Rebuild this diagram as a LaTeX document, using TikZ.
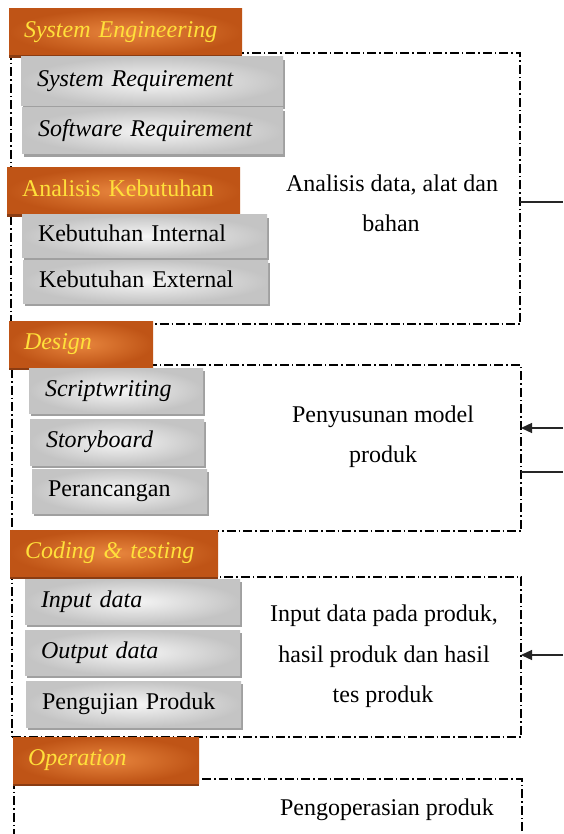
\documentclass[tikz,border=0pt]{standalone}
\usepackage{fontspec}
\setmainfont{Liberation Serif}
\usetikzlibrary{arrows.meta,shadows}
\definecolor{orIn}{HTML}{E8863E}
\definecolor{orOut}{HTML}{BF5416}
\definecolor{orShadow}{HTML}{8A3C12}
\definecolor{hdrText}{HTML}{FFE03A}
\definecolor{grIn}{HTML}{F6F6F6}
\definecolor{grOut}{HTML}{C4C4C4}
\definecolor{grShadow}{HTML}{A0A0A0}
\newcommand{\bigfont}{\fontsize{24}{28}\selectfont}
\begin{document}
\begin{tikzpicture}[x=1pt,y=-1pt,
  frame/.style={draw=black, line width=1.2pt, dash pattern=on 9pt off 3pt on 1.5pt off 3pt,
    anchor=north west, outer sep=0pt, inner sep=0pt},
  hdr/.style={inner xsep=15pt, inner ysep=0pt, outer sep=0pt, text=hdrText, font=\bigfont,
    text height=16pt, text depth=5pt, minimum height=46pt, anchor=north west, align=left,
    inner color=orIn, outer color=orOut,
    drop shadow={shadow xshift=0pt, shadow yshift=-3pt, opacity=1, fill=orShadow}},
  item/.style={inner xsep=16pt, inner ysep=0pt, outer sep=0pt, text=black, font=\bigfont,
    text height=16pt, text depth=5pt, anchor=north west, align=left,
    inner color=grIn, outer color=grOut,
    drop shadow={shadow xshift=2pt, shadow yshift=-3pt, opacity=1, fill=grShadow}},
  rtext/.style={anchor=base, inner sep=0pt, font=\bigfont, text=black},
  conn/.style={draw=black!85, line width=1.3pt},
  arr/.style={conn, -{Triangle[length=11pt,width=10pt]}}
]
\useasboundingbox (0,0) rectangle (563,834);
\clip (0,0) rectangle (563,834);
\fill[white] (0,0) rectangle (563,834);

% dashed frames
\node[frame, minimum width=509pt, minimum height=271pt] (b1) at (11,53) {};
\node[frame, minimum width=509pt, minimum height=166pt] (b2) at (12,365) {};
\node[frame, minimum width=509pt, minimum height=160pt] (b3) at (12,577) {};
\node[frame, minimum width=508pt, minimum height=55.6pt] (b4) at (14,779) {};

% section 1
\node[hdr, text width=203pt] (h1) at (9,9) {\textit{System Engineering}};
\node[item, text width=230pt, minimum height=49pt] (i1) at (21,57) {\textit{System Requirement}};
\node[item, text width=229pt, minimum height=46pt] (i2) at (22,108) {\textit{Software Requirement}};
\node[hdr, text width=203pt] (h1b) at (7,168) {Analisis Kebutuhan};
\node[item, text width=213pt, minimum height=42pt] (i3) at (22,215) {Kebutuhan Internal};
\node[item, text width=213pt, minimum height=43pt] (i4) at (23,260) {Kebutuhan External};
\node[rtext] (t1a) at (392,192) {Analisis data, alat dan};
\node[rtext] (t1b) at (391,232) {bahan};

% section 2
\node[hdr, text width=114pt] (h2) at (9,321) {\textit{Design}};
\node[item, text width=142pt, minimum height=45pt] (i5) at (29,368) {\textit{Scriptwriting}};
\node[item, text width=142pt, minimum height=46pt] (i6) at (30,419) {\textit{Storyboard}};
\node[item, text width=143pt, minimum height=44pt] (i7) at (32,469) {Perancangan};
\node[rtext] (t2a) at (383,422) {Penyusunan model};
\node[rtext] (t2b) at (383,462) {produk};

% section 3
\node[hdr, text width=178pt] (h3) at (10,530) {\textit{Coding \& testing}};
\node[item, text width=183pt, minimum height=45pt] (i8) at (25,579) {\textit{Input data}};
\node[item, text width=183pt, minimum height=45pt] (i9) at (25,630) {\textit{Output data}};
\node[item, text width=183pt, minimum height=46pt] (i10) at (26,681) {Pengujian Produk};
\node[rtext] (t3a) at (384,621) {Input data pada produk,};
\node[rtext] (t3b) at (384,662) {hasil produk dan hasil};
\node[rtext] (t3c) at (383,702) {tes produk};

% section 4
\node[hdr, text width=156pt] (h4) at (13,737) {\textit{Operation}};
\node[rtext] (t4) at (387,815) {Pengoperasian produk};

% connectors
\coordinate (e1) at (563,202);
\coordinate (e2a) at (563,428);
\coordinate (e2b) at (563,472);
\coordinate (e3) at (563,655);
\draw[conn] (b1.east |- e1) -- (e1);
\draw[arr] (e2a) -- (b2.east |- e2a);
\draw[conn] (b2.east |- e2b) -- (e2b);
\draw[arr] (e3) -- (b3.east |- e3);
\end{tikzpicture}
\end{document}
